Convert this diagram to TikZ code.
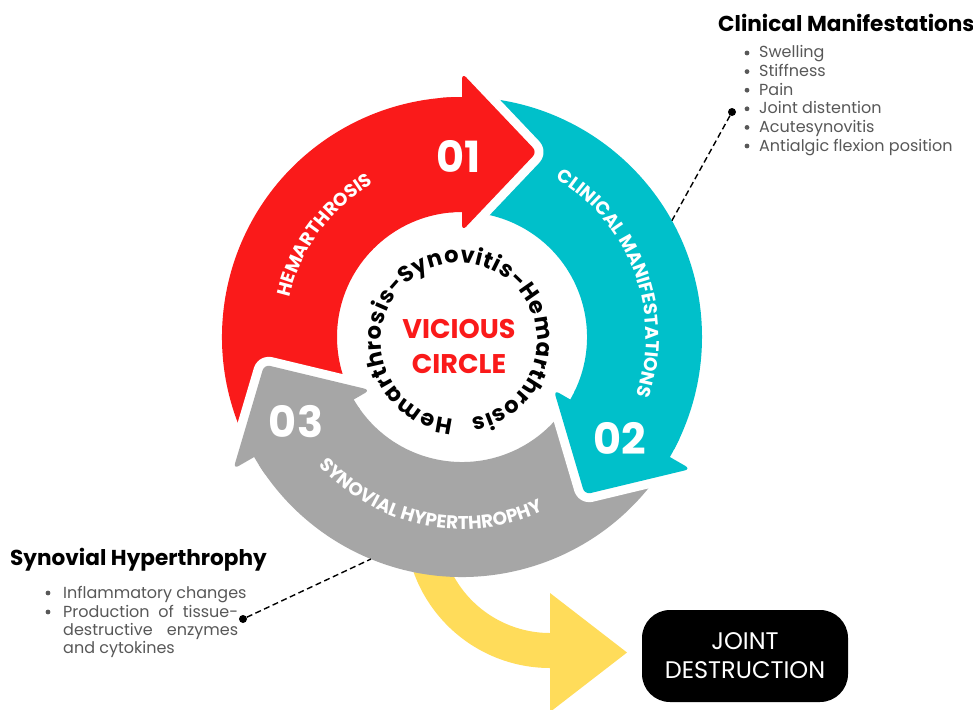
\documentclass[tikz,border=0pt]{standalone}
\usepackage{fontspec}
\setmainfont{Poppins}
\usetikzlibrary{calc,decorations.text}
\definecolor{cred}{RGB}{250,26,26}
\definecolor{cteal}{RGB}{0,192,202}
\definecolor{cgray}{RGB}{166,166,166}
\definecolor{cyel}{RGB}{255,220,90}
\definecolor{ctxt}{RGB}{88,88,88}
\newcommand\arcfont{\color{white}\bfseries\fontsize{18.5}{19}\selectfont}
\newcommand\ringfont{\color{black}\bfseries\fontsize{22.5}{24}\selectfont}
\newcommand\cycleband[3]{%
  \fill[#3] ($(C)+(#1:240)$) arc[start angle=#1,end angle=#2,radius=240]
    -- ($(C)+(#2:125)$) arc[start angle=#2,end angle=#1,radius=125] -- cycle;}
\newcommand\cyclehead[2]{%
  \path[headshape=#2] ($(C)+(#1:106)$) -- ($(C)+(#1:185)+(#1-90:75)$) -- ($(C)+(#1:264)$) -- cycle;
  \fill[#2] ($(C)+(#1+5:240)$) arc[start angle=#1+5,end angle=#1-2,radius=240]
    -- ($(C)+(#1-2:125)$) arc[start angle=#1-2,end angle=#1+5,radius=125] -- cycle;}
\tikzset{
  headshape/.style={fill=#1, rounded corners=6pt, preaction={draw=white, line width=18pt, line join=round}},
  num/.style={text=white, font=\bfseries\fontsize{43}{43}\selectfont, inner sep=0pt},
  ttl/.style={font=\bfseries\fontsize{21.6}{26}\selectfont, anchor=base west, inner sep=0pt},
  itm/.style={text=ctxt, font=\fontsize{16}{18}\selectfont, anchor=base west, inner sep=0pt},
  bul/.style={circle, fill=ctxt, inner sep=0pt, minimum size=4.8pt},
  leader/.style={black, line width=1.4pt, dash pattern=on 6pt off 3.5pt},
  dotnode/.style={circle, fill=black, inner sep=0pt, minimum size=8pt},
}
\begin{document}
\begin{tikzpicture}[x=1pt,y=1pt]
\useasboundingbox (0,0) rectangle (973,-709);
\fill[white] (0,0) rectangle (973,-709);
\coordinate (C) at (462,-337);
\coordinate (Y) at (550,-523);
\coordinate (T) at (459,-341);
% yellow arrow
\fill[cyel] ($(Y)+(160:145)$) arc[start angle=160,end angle=270,radius=145]
  -- (550,-712) -- (627,-652.5) -- (550,-593) -- ($(Y)+(270:110)$)
  arc[start angle=270,end angle=160,radius=110] -- cycle;
% cycle bands
\cycleband{210}{90}{cred}
\cycleband{90}{-30}{cteal}
\cycleband{-30}{-150}{cgray}
% heads
\cyclehead{90}{cred}
\cyclehead{-30}{cteal}
\cyclehead{210}{cgray}
% curved labels
\path[decorate, decoration={text along path, text={|\arcfont|HEMARTHROSIS}, text align=center}]
  ($(C)+(183.5:177)$) arc[start angle=183.5,end angle=103.5,radius=177];
\path[decorate, decoration={text along path, text={|\arcfont|CLINICAL MANIFESTATIONS}, text align=center}]
  ($(C)+(70.5:184)$) arc[start angle=70.5,end angle=-29.5,radius=184];
\path[decorate, decoration={text along path, text={|\arcfont|SYNOVIAL HYPERTHROPHY}, text align=center}]
  ($(C)+(208.5:192)$) arc[start angle=208.5,end angle=308.5,radius=192];
\path[decorate, decoration={text along path, text={|\ringfont|Hemarthrosis-Synovitis-Hemarthrosis}, text align=fit to path}]
  ($(T)+(266:78)$) arc[start angle=266,end angle=-81,radius=78];
% numbers
\node[num] (n1) at (459,-156) {01};
\node[num] (n2) at (620,-438) {02};
\node[num] (n3) at (296,-422) {03};
% center
\node[text=cred, align=center, font=\bfseries\fontsize{27}{35}\selectfont, inner sep=0pt] (vc) at (459,-346) {VICIOUS\\CIRCLE};
% clinical manifestations
\node[ttl] (t1) at (718,-32) {Clinical Manifestations};
\foreach \i/\t in {0/Swelling,1/Stiffness,2/Pain,3/Joint distention,4/Acutesynovitis,5/Antialgic flexion position}{
  \node[bul] (cb\i) at (747,{-53-18.6*\i}) {};
  \node[itm] (ct\i) at (759,{-58-18.6*\i}) {\t};
}
\node[dotnode] (d1) at (732,-112) {};
\coordinate (e1) at ($(C)+(29:240)$);
\draw[leader] (d1) -- (e1);
% synovial hyperthrophy
\node[ttl] (t2) at (10,-565) {Synovial Hyperthrophy};
\node[bul] (sb0) at (48,-593) {};
\node[bul] (sb1) at (48,-612) {};
\node[itm] (st0) at (63,-598) {Inflammatory changes};
\node[itm] (st1) at (63,-617) {\makebox[175pt][s]{Production of tissue-}};
\node[itm] (st2) at (63,-635) {\makebox[175pt][s]{destructive enzymes}};
\node[itm] (st3) at (63,-653) {and cytokines};
\node[dotnode] (d2) at (243,-619) {};
\coordinate (e2) at ($(C)+(247.7:240)$);
\draw[leader] (d2) -- (e2);
% joint destruction
\node[fill=black, rounded corners=28pt, minimum width=206pt, minimum height=92pt, text=white, align=center, font=\fontsize{24}{29}\selectfont, inner sep=0pt] (jd) at (745,-656) {JOINT\\DESTRUCTION};
\end{tikzpicture}
\end{document}
